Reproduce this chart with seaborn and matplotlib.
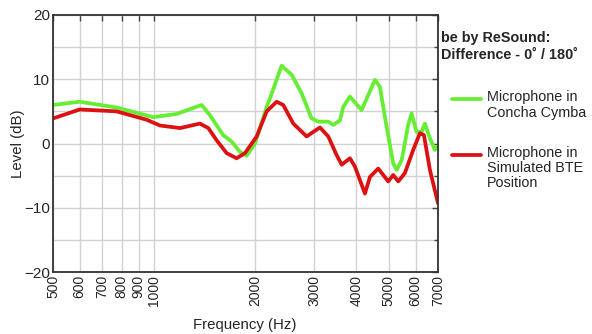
import numpy as np
import pandas as pd
import matplotlib
matplotlib.use("Agg")
import matplotlib.pyplot as plt
import seaborn as sns
from matplotlib.lines import Line2D

# values
concha_freq = [500, 600, 773, 994, 1167, 1385, 1466, 1606, 1701, 1801, 1886, 1997, 2163, 2212,
               2396, 2567, 2749, 2944, 3080, 3299, 3414, 3575, 3656, 3828, 4146, 4543,
               4701, 4922, 5149, 5272, 5457, 5707, 5841, 6043, 6257, 6400, 6622, 6853, 7000]
concha_db = [6.0, 6.5, 5.6, 4.1, 4.6, 6.0, 4.4, 1.3, 0.3, -1.3, -1.9, 0.0, 5.7, 7.0,
             12.1, 10.7, 7.8, 3.9, 3.4, 3.4, 2.9, 3.6, 5.7, 7.3, 5.2, 9.9,
             8.8, 2.6, -3.1, -4.1, -2.6, 2.9, 4.7, 1.8, 1.8, 3.1, 0.8, -1.0, -0.4]

bte_freq = [500, 601, 773, 950, 1041, 1194, 1369, 1450, 1535, 1644, 1760, 1864, 2020, 2163,
            2316, 2423, 2596, 2844, 3116, 3299, 3494, 3617, 3828, 3962, 4242, 4390,
            4647, 4977, 5149, 5330, 5579, 5906, 6185, 6357, 6622, 7000]
bte_db = [3.9, 5.3, 5.0, 3.7, 2.8, 2.4, 3.1, 2.4, 0.5, -1.5, -2.3, -1.5, 1.1, 5.0,
          6.5, 6.0, 3.1, 1.1, 2.5, 1.1, -1.8, -3.3, -2.3, -3.6, -7.8, -5.2,
          -3.9, -5.9, -4.9, -5.9, -4.6, -1.0, 1.6, 1.3, -4.1, -9.3]

series_names = ["Microphone in\nConcha Cymba", "Microphone in\nSimulated BTE\nPosition"]
series_colors = ["#66ee33", "#dd1111"]

x_ticks = [500, 600, 700, 800, 900, 1000, 2000, 3000, 4000, 5000, 6000, 7000]
y_ticks = [-20, -10, 0, 10, 20]
y_minor = [-15, -5, 5, 15]

df = pd.concat([
    pd.DataFrame({"freq": concha_freq, "level": concha_db, "series": series_names[0]}),
    pd.DataFrame({"freq": bte_freq, "level": bte_db, "series": series_names[1]}),
])

sns.set_style("white")
plt.rcParams["font.family"] = ["Liberation Sans", "DejaVu Sans"]

W, H = 592, 334
fig = plt.figure(figsize=(W / 100, H / 100), dpi=100)
ax = fig.add_axes([53 / W, 1 - 272 / H, 385 / W, 257 / H])

sns.lineplot(data=df, x="freq", y="level", hue="series", palette=series_colors,
             linewidth=2.7, legend=False, ax=ax, estimator=None)

ax.set_xscale("log")
ax.set_xlim(500, 7000)
ax.set_ylim(-20, 20)
ax.set_xticks(x_ticks)
ax.set_xticklabels([str(t) for t in x_ticks], rotation=90, fontsize=10)
ax.xaxis.set_minor_locator(matplotlib.ticker.NullLocator())
ax.set_yticks(y_ticks)
ax.set_yticklabels([("\u2212" + str(-t)) if t < 0 else str(t) for t in y_ticks], fontsize=11)
ax.set_yticks(y_minor, minor=True)
ax.grid(True, which="both", color="#d2d2d2", linewidth=1.0)
ax.set_axisbelow(True)
ax.tick_params(which="both", direction="in", top=True, right=True, length=4, width=1,
               color="#444444", pad=2)
ax.tick_params(axis="y", which="minor", length=3)
for s in ax.spines.values():
    s.set_color("#333333")
    s.set_linewidth(1.3)

ax.set_xlabel("Frequency (Hz)", fontsize=10.8)
ax.xaxis.set_label_coords(0.4987, -0.179)
ax.set_ylabel("Level (dB)", fontsize=10.8)
ax.yaxis.set_label_coords(-0.074, 0.5)

# legend block on the right, drawn by hand so the handles sit on the first line
fig.text(441 / W, 1 - 46.5 / H, "be by ReSound:\nDifference - 0\u02da / 180\u02da", fontsize=10.4,
         fontweight="bold", va="center", ha="left", linespacing=1.2)

handle_y = [99, 155]
text_y = [105, 168]
for name, color, hy, ty in zip(series_names, series_colors, handle_y, text_y):
    fig.add_artist(Line2D([452 / W, 481 / W], [1 - hy / H, 1 - hy / H], color=color,
                          linewidth=2.7, transform=fig.transFigure))
    fig.text(487 / W, 1 - ty / H, name, fontsize=10.4, va="center", ha="left", linespacing=1.12)

fig.savefig("out.png", dpi=100)
